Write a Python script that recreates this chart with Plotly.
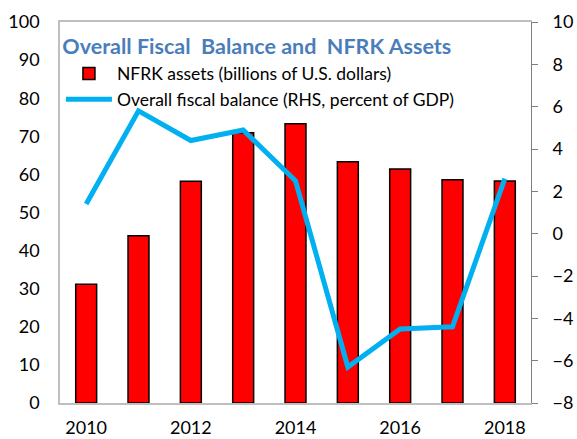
import plotly.graph_objects as go

years = [2010, 2011, 2012, 2013, 2014, 2015, 2016, 2017, 2018]
nfrk_assets = [31.2, 43.9, 58.2, 70.9, 73.3, 63.3, 61.4, 58.6, 58.3]
fiscal_balance = [1.4, 5.8, 4.4, 4.9, 2.5, -6.3, -4.5, -4.4, 2.6]
left_ticks = [0, 10, 20, 30, 40, 50, 60, 70, 80, 90, 100]
right_ticks = [-8, -6, -4, -2, 0, 2, 4, 6, 8, 10]
x_ticks = [2010, 2012, 2014, 2016, 2018]

FONT = "Lato"
fig = go.Figure()
fig.add_trace(go.Bar(
    x=years, y=nfrk_assets, name="NFRK assets (billions of U.S. dollars)",
    marker=dict(color="#FF0000", line=dict(color="#000000", width=1.5)),
    yaxis="y",
))
fig.add_trace(go.Scatter(
    x=years, y=fiscal_balance, name="Overall fiscal balance (RHS, percent of GDP)",
    mode="lines", line=dict(color="#00B0F0", width=5), yaxis="y2",
))

fig.update_layout(
    width=577, height=439,
    margin=dict(l=60, r=46, t=22, b=36, autoexpand=False),
    paper_bgcolor="white", plot_bgcolor="white",
    font=dict(family=FONT, size=18, color="#000000"),
    bargap=0.6,
    showlegend=True,
    legend=dict(x=0.002, y=0.912, xanchor="left", yanchor="top",
                bgcolor="rgba(0,0,0,0)", font=dict(size=17.5, family=FONT),
                tracegroupgap=0, itemwidth=46),
    title=dict(text="<b>Overall Fiscal  Balance and  NFRK Assets</b>",
               font=dict(family=FONT, size=21.5, color="#4A7EBB"),
               xref="paper", yref="paper", x=0.005, xanchor="left",
               y=0.937, yanchor="middle", pad=dict(l=0, r=0, t=0, b=0)),
    xaxis=dict(range=[2009.5, 2018.5], tickvals=x_ticks, ticks="",
               showline=True, linecolor="#BFBFBF", linewidth=1.5, mirror=True,
               showgrid=False, zeroline=False, ticklabelstandoff=8,
               automargin=False, tickfont=dict(size=18)),
    yaxis=dict(range=[0, 100], tickvals=left_ticks, showline=True,
               linecolor="#BFBFBF", linewidth=1.5, showgrid=False,
               zeroline=False, ticks="", ticklabelstandoff=15,
               automargin=False, tickfont=dict(size=18)),
    yaxis2=dict(range=[-8, 10], tickvals=right_ticks, overlaying="y",
                side="right", showline=True, linecolor="#808080", linewidth=1,
                ticks="outside", ticklen=6, tickcolor="#808080",
                showgrid=False, zeroline=False, ticklabelstandoff=11,
                automargin=False, tickfont=dict(size=18)),
)

fig.write_html("out.html", config={"displayModeBar": False},
               post_script="document.body.style.margin='0';document.body.style.padding='0';")
